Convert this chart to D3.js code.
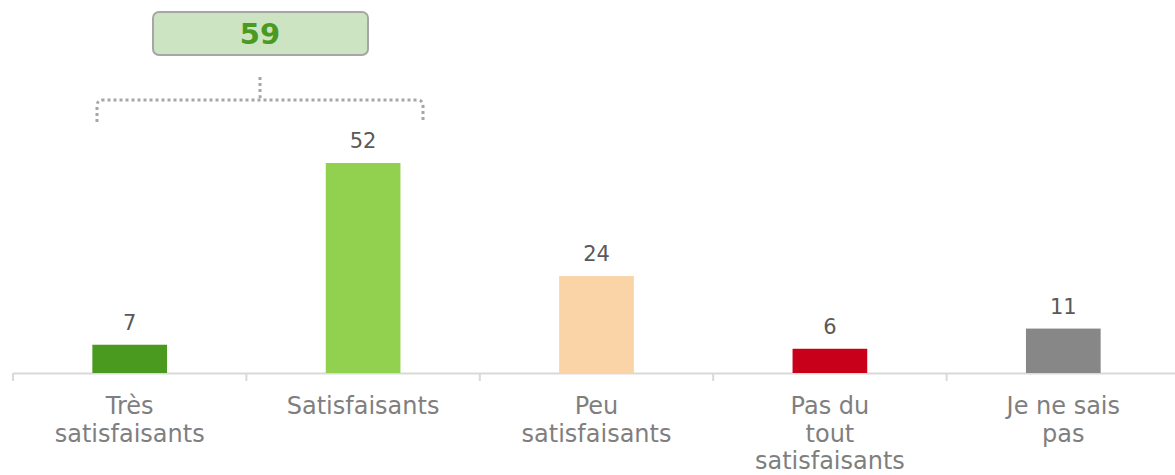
<!DOCTYPE html>
<html>
<head>
<meta charset="utf-8">
<script src="https://cdn.jsdelivr.net/npm/d3@7"></script>
<style>
  body { margin: 0; background: #fff; }
  svg text { font-family: "DejaVu Sans", Verdana, sans-serif; }
</style>
</head>
<body>
<svg id="chart" width="1175" height="475"></svg>
<script>
var categories = [
  ['Très', 'satisfaisants'],
  ['Satisfaisants'],
  ['Peu', 'satisfaisants'],
  ['Pas du', 'tout', 'satisfaisants'],
  ['Je ne sais', 'pas']
];
var values = [7, 52, 24, 6, 11];
var barColors = ['#4a9a1f', '#92d050', '#fad4a6', '#c8001a', '#878787'];
var totalLabel = '59';

var svg = d3.select('#chart');
var baseY = 373;

var x = d3.scaleBand()
  .domain(d3.range(values.length))
  .range([13, 1180])
  .paddingInner(0.68).paddingOuter(0.34);

var y = d3.scaleLinear().domain([0, 52]).range([baseY, 163]);

var band = (1180 - 13) / values.length;

// axis line + ticks
svg.append('line')
  .attr('x1', 13).attr('x2', 1175)
  .attr('y1', baseY + 0.5).attr('y2', baseY + 0.5)
  .attr('stroke', '#d9d9d9').attr('stroke-width', 2);
d3.range(values.length).forEach(function(i){
  var tx = 13 + i * band;
  svg.append('line')
    .attr('x1', tx).attr('x2', tx)
    .attr('y1', baseY).attr('y2', baseY + 8)
    .attr('stroke', '#d9d9d9').attr('stroke-width', 2);
});

// bars
svg.selectAll('rect.bar').data(values).enter().append('rect')
  .attr('class', 'bar')
  .attr('x', function(d, i){ return x(i); })
  .attr('width', x.bandwidth())
  .attr('y', function(d){ return y(d); })
  .attr('height', function(d){ return baseY - y(d); })
  .attr('fill', function(d, i){ return barColors[i]; });

// value labels
svg.selectAll('text.val').data(values).enter().append('text')
  .attr('class', 'val')
  .attr('x', function(d, i){ return x(i) + x.bandwidth() / 2; })
  .attr('y', function(d){ return y(d) - 15; })
  .attr('text-anchor', 'middle')
  .attr('font-size', 21)
  .attr('fill', '#595959')
  .text(function(d){ return d; });

// category labels
categories.forEach(function(lines, i){
  var t = svg.append('text')
    .attr('text-anchor', 'middle')
    .attr('font-size', 24)
    .attr('fill', '#7f7f7f');
  lines.forEach(function(l, j){
    t.append('tspan')
      .attr('x', x(i) + x.bandwidth() / 2)
      .attr('y', 414 + j * 27.5)
      .text(l);
  });
});

// bracket over first two bars
var bx1 = 97, bx2 = 423;
var bmid = 260, by = 100, r = 6;
svg.append('path')
  .attr('d', 'M' + bx1 + ',' + (by + 22) + ' L' + bx1 + ',' + (by + r) +
    ' Q' + bx1 + ',' + by + ' ' + (bx1 + r) + ',' + by +
    ' L' + (bx2 - r) + ',' + by +
    ' Q' + bx2 + ',' + by + ' ' + bx2 + ',' + (by + r) +
    ' L' + bx2 + ',' + (by + 22))
  .attr('fill', 'none')
  .attr('stroke', '#a6a6a6').attr('stroke-width', 3)
  .attr('stroke-dasharray', '3,3');
svg.append('path')
  .attr('d', 'M' + bmid + ',' + 77 + ' L' + bmid + ',' + (by - 6) + ' Q' + bmid + ',' + by + ' ' + (bmid + 2) + ',' + by)
  .attr('fill', 'none')
  .attr('stroke', '#a6a6a6').attr('stroke-width', 3)
  .attr('stroke-dasharray', '3,3');

// total box
svg.append('rect')
  .attr('x', 153).attr('y', 12)
  .attr('width', 215).attr('height', 43)
  .attr('rx', 6)
  .attr('fill', '#cde4c3')
  .attr('stroke', '#a6a6a6').attr('stroke-width', 2);
svg.append('text')
  .attr('x', 260).attr('y', 44)
  .attr('text-anchor', 'middle')
  .attr('font-size', 29).attr('font-weight', 'bold')
  .attr('fill', '#4a9a1f')
  .text(totalLabel);
</script>
</body>
</html>
